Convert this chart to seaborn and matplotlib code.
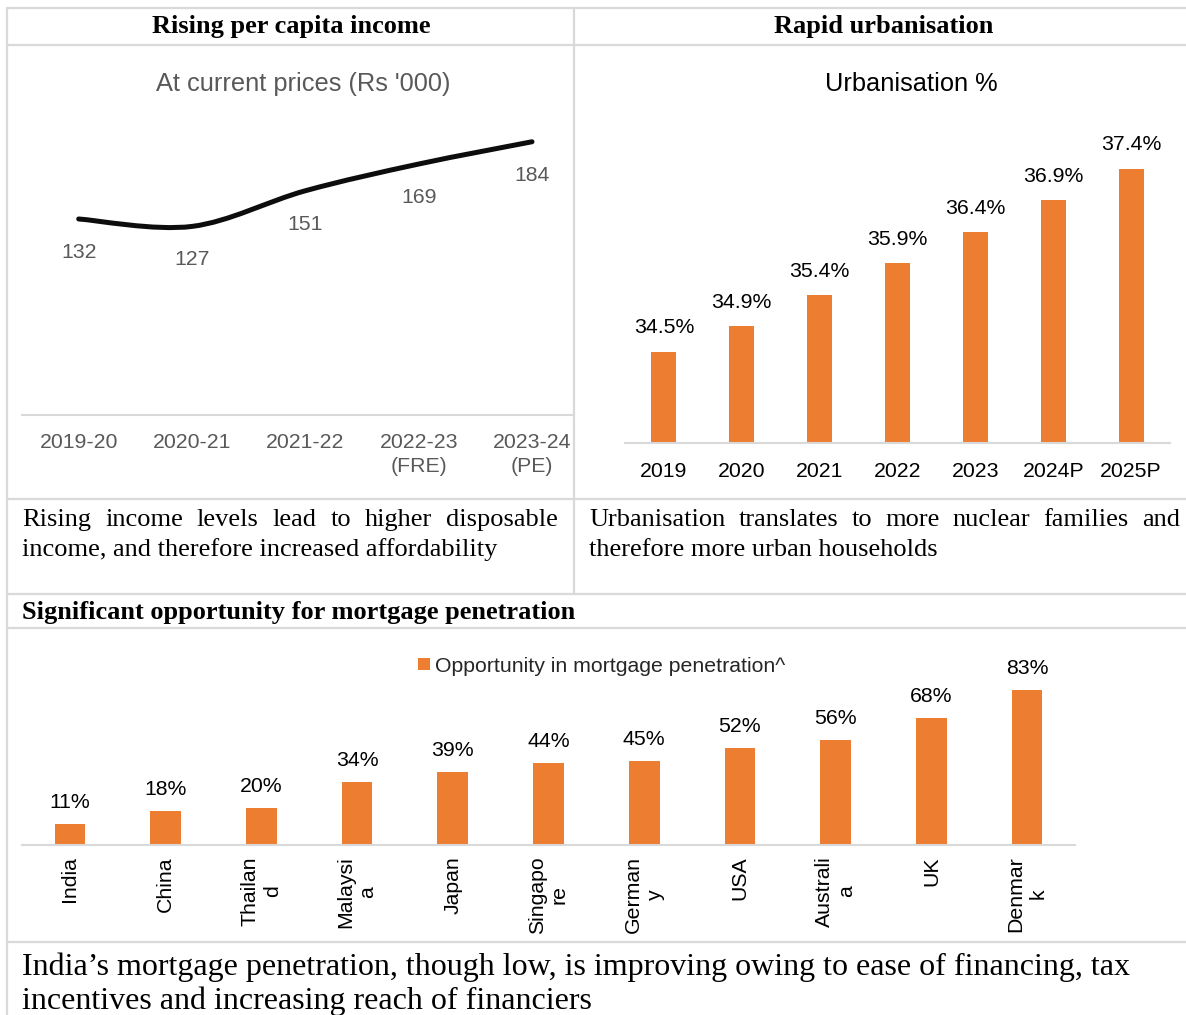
import numpy as np
import matplotlib
matplotlib.use("Agg")
import matplotlib.pyplot as plt
from matplotlib.path import Path
from matplotlib.patches import PathPatch
from matplotlib.lines import Line2D
import seaborn as sns

# ---- data -------------------------------------------------------------
income_years = ["2019-20", "2020-21", "2021-22", "2022-23\n(FRE)", "2023-24\n(PE)"]
income_values = [132, 127, 151, 169, 184]

urban_years = ["2019", "2020", "2021", "2022", "2023", "2024P", "2025P"]
urban_values = [34.5, 34.9, 35.4, 35.9, 36.4, 36.9, 37.4]

countries = ["India", "China", "Thailand", "Malaysia", "Japan", "Singapore",
             "Germany", "USA", "Australia", "UK", "Denmark"]
country_ticks = ["India", "China", "Thailan\nd", "Malaysi\na", "Japan", "Singapo\nre",
                 "German\ny", "USA", "Australi\na", "UK", "Denmar\nk"]
mortgage_gap = [11, 18, 20, 34, 39, 44, 45, 52, 56, 68, 83]

# ---- style ------------------------------------------------------------
W, H, DPI = 1186, 1015, 100
ORANGE = "#ED7D31"
GRID = "#D9D9D9"
GREY_TXT = "#595959"
SANS = ["Liberation Sans", "DejaVu Sans"]
SERIF = ["Liberation Serif", "DejaVu Serif"]
FS = 15.3          # chart labels
FS_TITLE = 18.3    # chart titles

sns.set_style("white")
plt.rcParams["font.family"] = SANS

fig = plt.figure(figsize=(W / DPI, H / DPI), dpi=DPI, facecolor="white")


def fx(x):
    return x / W


def fy(y):
    return 1 - y / H


def rect(x0, y0, x1, y1):
    return [x0 / W, 1 - y1 / H, (x1 - x0) / W, (y1 - y0) / H]


def style_axis(ax):
    for s in ("top", "left", "right"):
        ax.spines[s].set_visible(False)
    ax.spines["bottom"].set_color(GRID)
    ax.spines["bottom"].set_linewidth(1.5)
    ax.set_yticks([])
    ax.set_xlabel("")
    ax.set_ylabel("")
    ax.set_facecolor("none")


# ---- table frame --------------------------------------------------------
def hline(y, x0=7, x1=W):
    fig.add_artist(Line2D([fx(x0), fx(x1)], [fy(y), fy(y)], transform=fig.transFigure,
                          color=GRID, lw=1.6, zorder=5))


def vline(x, y0, y1):
    fig.add_artist(Line2D([fx(x), fx(x)], [fy(y0), fy(y1)], transform=fig.transFigure,
                          color=GRID, lw=1.6, zorder=5))


for y in (8, 45, 499, 594, 628, 942):
    hline(y)
vline(7, 8, H)
vline(574, 8, 594)

# ---- headers and captions ----------------------------------------------
HDR = dict(family=SERIF, fontweight="bold", fontsize=19, color="black", va="baseline")
fig.text(fx(291), fy(33), "Rising per capita income", ha="center", **HDR)
fig.text(fx(884), fy(33), "Rapid urbanisation", ha="center", **HDR)
fig.text(fx(22), fy(619), "Significant opportunity for mortgage penetration", ha="left", **HDR)

renderer = fig.canvas.get_renderer()


def justified(text, x0, x1, y, size):
    words = text.split()
    arts = [fig.text(fx(x0), fy(y), w, fontsize=size, family=SERIF, color="black",
                     ha="left", va="baseline") for w in words]
    widths = [a.get_window_extent(renderer).width for a in arts]
    gap = (x1 - x0 - sum(widths)) / (len(words) - 1)
    x = x0
    for a, wd in zip(arts, widths):
        a.set_x(fx(x))
        x += wd + gap


DESC = dict(fontsize=19, family=SERIF, color="black", ha="left", va="baseline")
justified("Rising income levels lead to higher disposable", 22, 558, 526, 19)
fig.text(fx(22), fy(556), "income, and therefore increased affordability", **DESC)
justified("Urbanisation translates to more nuclear families and", 589, 1180, 526, 19)
fig.text(fx(589), fy(556), "therefore more urban households", **DESC)

BOT = dict(fontsize=23, family=SERIF, color="black", ha="left", va="baseline")
fig.text(fx(22), fy(975), "India\u2019s mortgage penetration, though low, is improving owing to ease of financing, tax", **BOT)
fig.text(fx(22), fy(1009), "incentives and increasing reach of financiers", **BOT)

# ---- per capita income (smoothed line) ---------------------------------
ax1 = fig.add_axes(rect(22, 118, 572, 415))
style_axis(ax1)
ax1.set_xlim(-0.5, 4.353)
ax1.set_ylim(0, 200)
xs = np.arange(len(income_values))
ax1.set_xticks(xs, income_years)
ax1.tick_params(axis="x", length=0, pad=13, labelsize=FS, labelcolor=GREY_TXT)
for lbl in ax1.get_xticklabels():
    lbl.set_linespacing(1.3)


def smooth_path(ax, x, y):
    pts = ax.transData.transform(np.column_stack([x, y]))
    n = len(pts)
    verts, codes = [pts[0]], [Path.MOVETO]
    for i in range(n - 1):
        p0, p1 = pts[max(i - 1, 0)], pts[i]
        p2, p3 = pts[i + 1], pts[min(i + 2, n - 1)]
        verts += [p1 + (p2 - p0) / 6, p2 - (p3 - p1) / 6, p2]
        codes += [Path.CURVE4] * 3
    return Path(ax.transData.inverted().transform(np.array(verts)), codes)


ax1.add_patch(PathPatch(smooth_path(ax1, xs, income_values), facecolor="none",
                        edgecolor="#0D0D0D", lw=3.6, capstyle="round", joinstyle="round"))
for i, v in enumerate(income_values):
    ax1.annotate(f"{v}", (i, v), xytext=(0, -24), textcoords="offset points",
                 ha="center", va="center", fontsize=FS, color=GREY_TXT)
fig.text(fx(303), fy(84), "At current prices (Rs '000)", ha="center", va="center",
         fontsize=FS_TITLE, color=GREY_TXT)

# ---- urbanisation bars --------------------------------------------------
ax2 = fig.add_axes(rect(625, 127.5, 1170, 443))
sns.barplot(x=urban_years, y=urban_values, color=ORANGE, saturation=1, width=0.32,
            linewidth=0, ax=ax2)
style_axis(ax2)
ax2.set_xlim(-0.5, 6.5)
ax2.set_ylim(33.05, 38.05)
ax2.tick_params(axis="x", length=0, pad=13.5, labelsize=FS, labelcolor="black")
for i, v in enumerate(urban_values):
    ax2.annotate(f"{v:.1f}%", (i, v), xytext=(0, 17), textcoords="offset points",
                 ha="center", va="center", fontsize=FS, color="black", annotation_clip=False)
fig.text(fx(911), fy(84), "Urbanisation %", ha="center", va="center",
         fontsize=FS_TITLE, color="black")

# ---- mortgage penetration opportunity ----------------------------------
ax3 = fig.add_axes(rect(22, 677, 1075, 845))
sns.barplot(x=countries, y=mortgage_gap, color=ORANGE, saturation=1, width=0.32,
            linewidth=0, ax=ax3, label="Opportunity in mortgage penetration^")
style_axis(ax3)
ax3.set_xlim(-0.5, 10.5)
ax3.set_ylim(0, 90)
ax3.set_xticks(range(len(countries)), country_ticks)
ax3.tick_params(axis="x", length=0, pad=8, labelsize=FS, labelcolor="black", labelrotation=90)
for i, v in enumerate(mortgage_gap):
    ax3.annotate(f"{v}%", (i, v), xytext=(0, 15.5), textcoords="offset points",
                 ha="center", va="center", fontsize=FS, color="black", annotation_clip=False)
ax3.legend(loc="center", bbox_to_anchor=(fx(602), fy(666)), bbox_transform=fig.transFigure,
           frameon=False, fontsize=FS, handlelength=0.55, handleheight=0.55,
           handletextpad=0.25, borderaxespad=0, borderpad=0)

fig.savefig("out.png", dpi=DPI, facecolor="white")
